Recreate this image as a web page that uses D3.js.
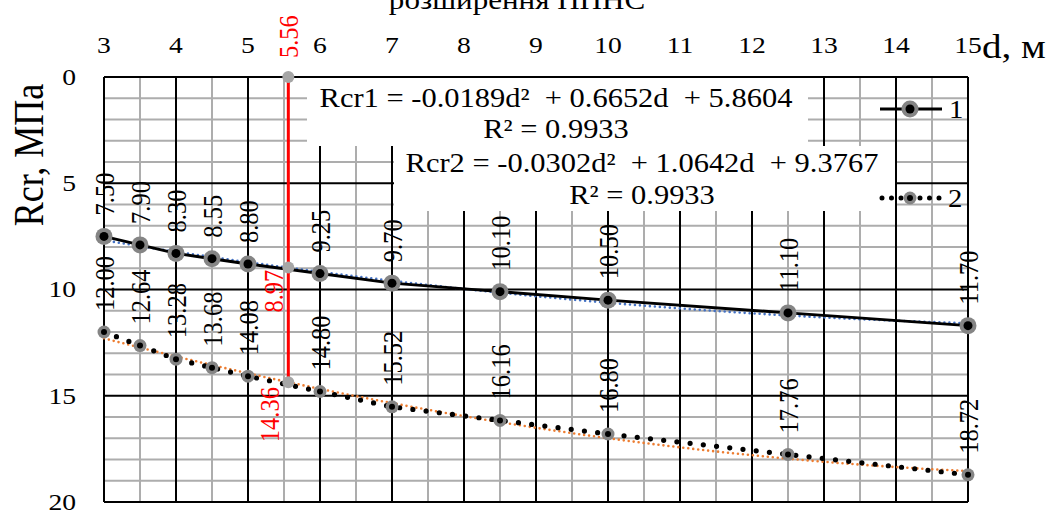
<!DOCTYPE html>
<html><head><meta charset="utf-8">
<script src="https://cdn.jsdelivr.net/npm/d3@7"></script>
<style>
html,body{margin:0;padding:0;background:#fff;}
svg text{font-family:"Liberation Serif","Times New Roman",serif;white-space:pre;}
</style></head>
<body>
<svg id="chart" width="1064" height="510"></svg>
<script>
// ---- data ----
const title = "розширення ППНС";
const xTitle = "d, м";
const yTitle = "Rcr, МПа";
const xTicks = [3,4,5,6,7,8,9,10,11,12,13,14,15];
const yTicks = [0,5,10,15,20];
const dValues = [3,3.5,4,4.5,5,6,7,8.5,10,12.5,15];
const rcr1 = [7.50,7.90,8.30,8.55,8.80,9.25,9.70,10.10,10.50,11.10,11.70];
const rcr2 = [12.00,12.64,13.28,13.68,14.08,14.80,15.52,16.16,16.80,17.76,18.72];
const trend1Coef = [-0.0189,0.6652,5.8604];
const trend2Coef = [-0.0302,1.0642,9.3767];
const eq1 = "Rcr1 = -0.0189d²  + 0.6652d  + 5.8604";
const eq2 = "Rcr2 = -0.0302d²  + 1.0642d  + 9.3767";
const r2Text = "R² = 0.9933";
const cutD = 5.56, cut1 = 8.97, cut2 = 14.36;
const legendNames = ["1","2"];

// ---- layout ----
const SX = 1.15;
const svg = d3.select("#chart");
const x = d3.scaleLinear().domain([3,15]).range([104,968]);
const y = d3.scaleLinear().domain([0,20]).range([77,502]);
const GRAY = "#ADADAD";

function T(g, px, py, s, o={}){
  const t = g.append("text")
    .attr("transform", `translate(${px},${py}) scale(${SX},1)` + (o.rot ? ` rotate(${o.rot})` : ""))
    .attr("font-size", o.size || 24)
    .attr("fill", o.fill || "#000")
    .attr("text-anchor", o.anchor || "middle");
  if (o.db) t.attr("dominant-baseline", o.db);
  t.text(s);
  return t;
}

// grid
const grid = svg.append("g");
const minorX = d3.range(3, 15.01, 0.5).filter(v => v % 1 !== 0);
const minorY = d3.range(0, 20.01, 1).filter(v => v % 5 !== 0);
grid.selectAll(".mx").data(minorX).join("line")
  .attr("x1", d=>x(d)).attr("x2", d=>x(d)).attr("y1", y(0)).attr("y2", y(20))
  .attr("stroke", GRAY).attr("stroke-width", 2);
grid.selectAll(".my").data(minorY).join("line")
  .attr("y1", d=>y(d)).attr("y2", d=>y(d)).attr("x1", x(3)).attr("x2", x(15))
  .attr("stroke", GRAY).attr("stroke-width", 2);
grid.selectAll(".Mx").data(xTicks).join("line")
  .attr("x1", d=>x(d)).attr("x2", d=>x(d)).attr("y1", y(0)).attr("y2", y(20))
  .attr("stroke", "#000").attr("stroke-width", 2);
grid.selectAll(".My").data(yTicks).join("line")
  .attr("y1", d=>y(d)).attr("y2", d=>y(d)).attr("x1", x(3)).attr("x2", x(15))
  .attr("stroke", "#000").attr("stroke-width", 2);

// equation label boxes (white backgrounds)
svg.append("rect").attr("x", 307).attr("y", 78).attr("width", 501).attr("height", 68).attr("fill", "#fff");
svg.append("rect").attr("x", 394).attr("y", 146).attr("width", 501).attr("height", 65).attr("fill", "#fff");
svg.append("line").attr("x1", x(3)).attr("x2", x(15)).attr("y1", y(0)).attr("y2", y(0)).attr("stroke","#000").attr("stroke-width",2);

// axis tick labels
const ax = svg.append("g");
xTicks.forEach(v => T(ax, x(v), 53, String(v), {size: 24}));
yTicks.forEach(v => T(ax, 76, y(v), String(v), {size: 24, anchor: "end", db: "central"}));
T(ax, 982, 58, xTitle, {size: 34, anchor: "start"});
T(ax, 43, 155, yTitle, {size: 36, rot: -90});
T(ax, 517, 9, title, {size: 27});

// trendlines
const trendD = d3.range(3, 15.001, 0.1);
const poly = c => d => c[0]*d*d + c[1]*d + c[2];
const lineGen = f => d3.line().x(d=>x(d)).y(d=>y(f(d)));
svg.append("path").attr("d", lineGen(poly(trend1Coef))(trendD))
  .attr("fill","none").attr("stroke","#4472C4").attr("stroke-width",2.6)
  .attr("stroke-dasharray","0 5").attr("stroke-linecap","round");
svg.append("path").attr("d", lineGen(poly(trend2Coef))(trendD))
  .attr("fill","none").attr("stroke","#ED7D31").attr("stroke-width",2.6)
  .attr("stroke-dasharray","0 5").attr("stroke-linecap","round");

// series lines
const pts1 = dValues.map((d,i)=>[d, rcr1[i]]);
const pts2 = dValues.map((d,i)=>[d, rcr2[i]]);
const sLine = d3.line().x(d=>x(d[0])).y(d=>y(d[1]));
svg.append("path").attr("d", sLine(pts1)).attr("fill","none").attr("stroke","#000").attr("stroke-width",3);
svg.append("path").attr("d", sLine(pts2)).attr("fill","none").attr("stroke","#000").attr("stroke-width",5.2)
  .attr("stroke-dasharray","0 13.3").attr("stroke-linecap","round");

// red marker line
svg.append("line").attr("x1", x(cutD)).attr("x2", x(cutD)).attr("y1", y(0)).attr("y2", y(cut2))
  .attr("stroke","#FF0000").attr("stroke-width",3);
[0, cut1, cut2].forEach(v => svg.append("circle").attr("cx", x(cutD)).attr("cy", y(v)).attr("r", 6).attr("fill", "#A6A6A6"));

// markers
function marker(g, cx, cy, r1, r2){
  g.append("circle").attr("cx",cx).attr("cy",cy).attr("r",r1).attr("fill","#858585");
  g.append("circle").attr("cx",cx).attr("cy",cy).attr("r",r2).attr("fill","#000");
}
const mk = svg.append("g");
pts1.forEach(p => marker(mk, x(p[0]), y(p[1]), 8.5, 4.5));
pts2.forEach(p => marker(mk, x(p[0]), y(p[1]), 6.5, 3));

// data labels
const lb = svg.append("g");
pts1.forEach(p => T(lb, x(p[0]), y(p[1]) - 21, p[1].toFixed(2), {size: 24.5, rot: -90, anchor: "start", db: "central"}));
pts2.forEach(p => T(lb, x(p[0]), y(p[1]) - 21, p[1].toFixed(2), {size: 24.5, rot: -90, anchor: "start", db: "central"}));
T(lb, x(cutD), 58, cutD.toFixed(2), {size: 24.5, rot: -90, anchor: "start", db: "central", fill: "#FF0000"});
T(lb, 273, y(cut1) + 45, cut1.toFixed(2), {size: 24.5, rot: -90, anchor: "start", db: "central", fill: "#FF0000"});
T(lb, 269, y(cut2) + 60, cut2.toFixed(2), {size: 24.5, rot: -90, anchor: "start", db: "central", fill: "#FF0000"});

// equations
const eqg = svg.append("g");
T(eqg, 556, 107, eq1, {size: 26.5});
T(eqg, 556, 138, r2Text, {size: 26.5});
T(eqg, 642, 172, eq2, {size: 26.5});
T(eqg, 642, 204, r2Text, {size: 26.5});

// legend
const lg = svg.append("g");
lg.append("line").attr("x1",880).attr("x2",942).attr("y1",109).attr("y2",109).attr("stroke","#000").attr("stroke-width",3);
marker(lg, 910, 109, 8.5, 4.5);
T(lg, 949, 118, legendNames[0], {size: 25, anchor: "start"});
lg.append("line").attr("x1",882).attr("x2",940).attr("y1",198).attr("y2",198).attr("stroke","#000").attr("stroke-width",5)
  .attr("stroke-dasharray","0 9.5").attr("stroke-linecap","round");
marker(lg, 910, 198, 6.5, 3);
T(lg, 948, 207, legendNames[1], {size: 25, anchor: "start"});
</script>
</body></html>
